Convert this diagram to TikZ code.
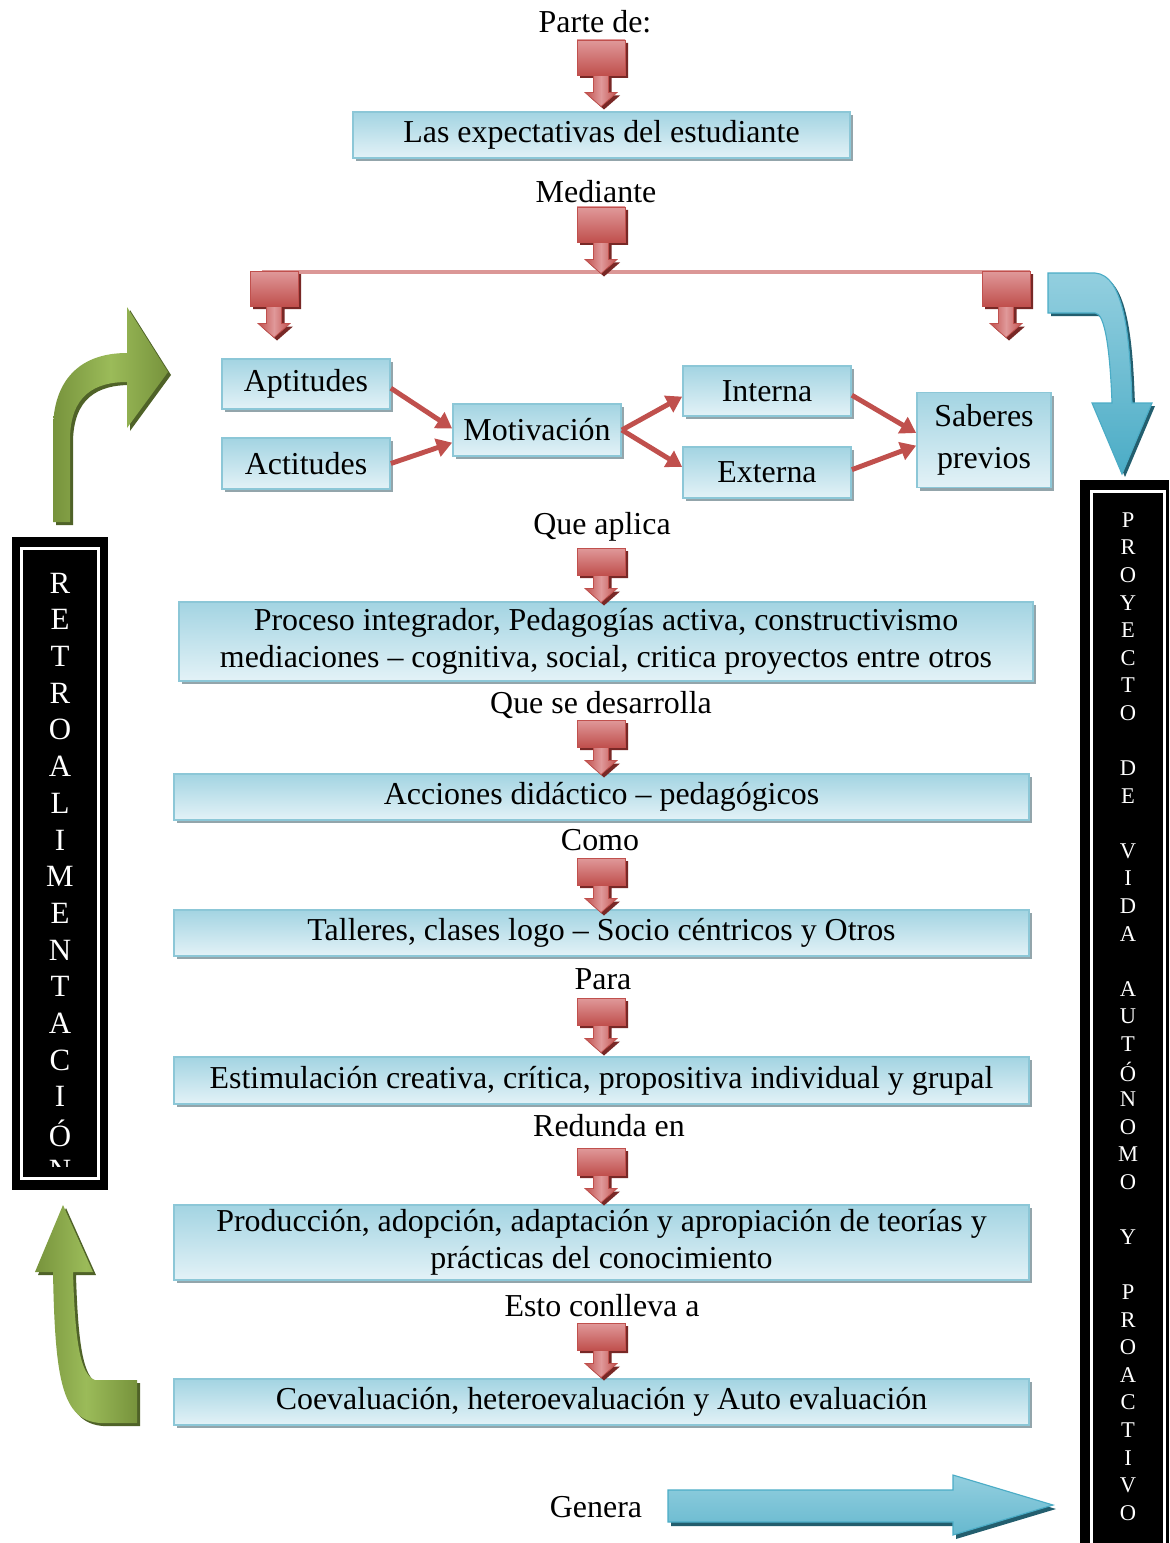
\documentclass[tikz,border=0pt]{standalone}
\usepackage{fontspec}
\setmainfont{Liberation Serif}
\usepackage{tikz}
\usetikzlibrary{positioning,arrows.meta,shadows}

\definecolor{boxblue}{HTML}{A3D4E2}
\definecolor{boxlight}{HTML}{E3F2F7}
\definecolor{boxline}{HTML}{8CC7D7}
\definecolor{boxshadow}{HTML}{93A5AB}
\definecolor{redtop}{HTML}{E0999A}
\definecolor{redbot}{HTML}{C0504D}
\definecolor{redshadow}{HTML}{782826}
\definecolor{pinkline}{HTML}{DB9796}
\definecolor{bluearrow}{HTML}{4BACC6}
\definecolor{bluetop}{HTML}{93CFDF}
\definecolor{blueshadow}{HTML}{235E6E}
\definecolor{greenarrow}{HTML}{77933C}
\definecolor{greenmid}{HTML}{9BBB59}
\definecolor{greenshadow}{HTML}{4F6228}

\begin{document}
\begin{tikzpicture}[x=0.025cm, y=-0.025cm,
  conceptbox/.style={draw=boxline, line width=1.2pt, top color=boxblue, bottom color=boxlight, inner sep=0pt, align=center, font=\fontsize{22.7}{26.3}\selectfont, drop shadow={shadow xshift=2.2pt, shadow yshift=-2.2pt, fill=boxshadow, opacity=1}},
  steplabel/.style={inner sep=0pt, font=\fontsize{22.7}{26.3}\selectfont},
  barletter/.style={inner sep=0pt, text=white, font=\fontsize{22}{24}\selectfont},
  sideletter/.style={inner sep=0pt, text=white, font=\fontsize{16}{18}\selectfont},
  link/.style={draw=redbot, line width=3.5pt, -{Triangle[length=11pt, width=13pt]}},
  pics/redarrow/.style={code={
    \fill[redshadow, shift={(3,3)}] (-24,0) -- (24,0) -- (24,#1) -- (7.5,#1) -- (7.5,1.5*#1) -- (16,1.5*#1) -- (0,1.5*#1+14) -- (-16,1.5*#1) -- (-7.5,1.5*#1) -- (-7.5,#1) -- (-24,#1) -- cycle;
    \shade[left color=redbot, right color=redbot, middle color=redtop, draw=redbot, line width=0.5pt] (-7.5,#1) -- (7.5,#1) -- (7.5,1.5*#1) -- (16,1.5*#1) -- (0,1.5*#1+14) -- (-16,1.5*#1) -- (-7.5,1.5*#1) -- cycle;
    \shade[top color=redtop, bottom color=redbot, draw=redbot, line width=0.5pt] (-24,0) rectangle (24,#1);
  }}]
\useasboundingbox (0,0) rectangle (1169,1543);

\node[steplabel] (parte) at (595,22) {Parte de:};
\node[conceptbox, minimum width=12.43cm, minimum height=1.15cm] (expect) at (601.5,135) {Las expectativas del estudiante};
\node[steplabel] (mediante) at (596,192) {Mediante};

\node[conceptbox, minimum width=4.2cm, minimum height=1.25cm] (aptitudes) at (306,384) {Aptitudes};
\node[conceptbox, minimum width=4.2cm, minimum height=1.27cm] (actitudes) at (306,463.5) {Actitudes};
\node[conceptbox, minimum width=4.2cm, minimum height=1.3cm] (motivacion) at (537,430) {Motivación};
\node[conceptbox, minimum width=4.2cm, minimum height=1.25cm] (interna) at (767,391) {Interna};
\node[conceptbox, minimum width=4.2cm, minimum height=1.27cm] (externa) at (767,472.5) {Externa};
\node[conceptbox, minimum width=3.35cm, minimum height=2.375cm] (saberes) at (984,440) {Saberes\\[4pt] previos};

\node[steplabel] (aplica) at (602,527) {Que aplica};
\node[conceptbox, minimum width=21.35cm, minimum height=1.975cm] (proceso) at (606,641.5) {Proceso integrador, Pedagogías activa, constructivismo\\ mediaciones -- cognitiva, social, critica proyectos entre otros};
\node[steplabel] (desarrolla) at (601,705) {Que se desarrolla};
\node[conceptbox, minimum width=21.375cm, minimum height=1.15cm] (acciones) at (601.5,797) {Acciones didáctico -- pedagógicos};
\node[steplabel] (como) at (600,840) {Como};
\node[conceptbox, minimum width=21.375cm, minimum height=1.15cm] (talleres) at (601.5,933) {Talleres, clases logo -- Socio céntricos y Otros};
\node[steplabel] (para) at (603,979) {Para};
\node[conceptbox, minimum width=21.375cm, minimum height=1.175cm] (estimulacion) at (601.5,1080.5) {Estimulación creativa, crítica, propositiva individual y grupal};
\node[steplabel] (redunda) at (609,1126) {Redunda en};
\node[conceptbox, minimum width=21.375cm, minimum height=1.875cm] (produccion) at (601.5,1242.5) {Producción, adopción, adaptación y apropiación de teorías y\\ prácticas del conocimiento};
\node[steplabel] (conlleva) at (602,1306) {Esto conlleva a};
\node[conceptbox, minimum width=21.375cm, minimum height=1.15cm] (coeval) at (601.5,1402) {Coevaluación, heteroevaluación y Auto evaluación};
\node[steplabel] (genera) at (596,1507) {Genera};

\draw[pinkline, line width=3.5pt] (262,272) -- (1030,272);
\pic at (601,40) {redarrow=35};
\pic at (601,207) {redarrow=35};
\pic at (274,271) {redarrow=35};
\pic at (1006,271) {redarrow=35};
\pic at (601,548) {redarrow=27};
\pic at (601,720) {redarrow=27};
\pic at (601,858) {redarrow=27};
\pic at (601,998) {redarrow=27};
\pic at (601,1148) {redarrow=27};
\pic at (601,1323) {redarrow=27};

\draw[link] ([yshift=-3pt]aptitudes.east) -- ([yshift=1pt]motivacion.west);
\draw[link] (actitudes.east) -- ([yshift=-9pt]motivacion.west);
\draw[link] (motivacion.east) -- ([yshift=-4pt]interna.west);
\draw[link] (motivacion.east) -- ([yshift=4pt]externa.west);
\draw[link] ([yshift=-3pt]interna.east) -- ([yshift=5pt]saberes.west);
\draw[link] ([yshift=2pt]externa.east) -- ([yshift=-4pt]saberes.west);

\fill[blueshadow, shift={(3,3)}] (1048,273) -- (1095,273) .. controls (1125,275) and (1130,340) .. (1132,403) -- (1152,403) -- (1122,474) -- (1092,403) -- (1112,403) .. controls (1110,350) and (1105,313) .. (1095,313) -- (1048,313) -- cycle;
\shade[top color=bluetop, bottom color=bluearrow, draw=bluearrow, line width=0.8pt] (1048,273) -- (1095,273) .. controls (1125,275) and (1130,340) .. (1132,403) -- (1152,403) -- (1122,474) -- (1092,403) -- (1112,403) .. controls (1110,350) and (1105,313) .. (1095,313) -- (1048,313) -- cycle;

\fill[blueshadow, shift={(3,4)}] (668,1490) -- (953,1490) -- (953,1475) -- (1053,1505) -- (953,1535) -- (953,1522) -- (668,1522) -- cycle;
\shade[top color=bluetop, middle color=bluearrow, bottom color=bluearrow!85!white, draw=bluearrow, line width=0.8pt] (668,1490) -- (953,1490) -- (953,1475) -- (1053,1505) -- (953,1535) -- (953,1522) -- (668,1522) -- cycle;

\fill[greenshadow, shift={(3,3)}] (53,522) -- (53,430) .. controls (53,380) and (80,353) .. (127,353) -- (127,307) -- (168,372) -- (127,428) -- (127,382) .. controls (95,382) and (70,395) .. (70,440) -- (70,522) -- cycle;
\shade[left color=greenarrow, right color=greenarrow, middle color=greenmid] (53,522) -- (53,430) .. controls (53,380) and (80,353) .. (127,353) -- (127,307) -- (168,372) -- (127,428) -- (127,382) .. controls (95,382) and (70,395) .. (70,440) -- (70,522) -- cycle;

\fill[greenshadow, shift={(3,3)}] (35,1272) -- (63,1205) -- (93,1272) -- (73,1272) .. controls (75,1340) and (80,1375) .. (95,1380) -- (137,1380) -- (137,1423) -- (100,1423) .. controls (62,1420) and (55,1380) .. (53,1272) -- cycle;
\shade[left color=greenarrow, right color=greenarrow, middle color=greenmid] (35,1272) -- (63,1205) -- (93,1272) -- (73,1272) .. controls (75,1340) and (80,1375) .. (95,1380) -- (137,1380) -- (137,1423) -- (100,1423) .. controls (62,1420) and (55,1380) .. (53,1272) -- cycle;

\fill[black] (12,537) rectangle (108,1190);
\draw[white, line width=2.1pt] (21.5,548.5) rectangle (98.5,1178.5);
\begin{scope}
\clip (23,550) rectangle (97,1166);
\foreach \l [count=\i from 0] in {R,E,T,R,O,A,L,I,M,E,N,T,A,C,I,Ó,N}
  \node[barletter] (retro\i) at (60,583+36.7*\i) {\l};
\end{scope}

\fill[black] (1080,480) rectangle (1169,1543);
\draw[white, line width=2.1pt] (1091.5,491.5) rectangle (1164.5,1560);
\foreach \l [count=\i from 0] in {P,R,O,Y,E,C,T,O,{},D,E,{},V,I,D,A,{},A,U,T,Ó,N,O,M,O,{},Y,{},P,R,O,A,C,T,I,V,O}
  \node[sideletter] (vida\i) at (1128,520+27.58*\i) {\l};

\end{tikzpicture}
\end{document}
